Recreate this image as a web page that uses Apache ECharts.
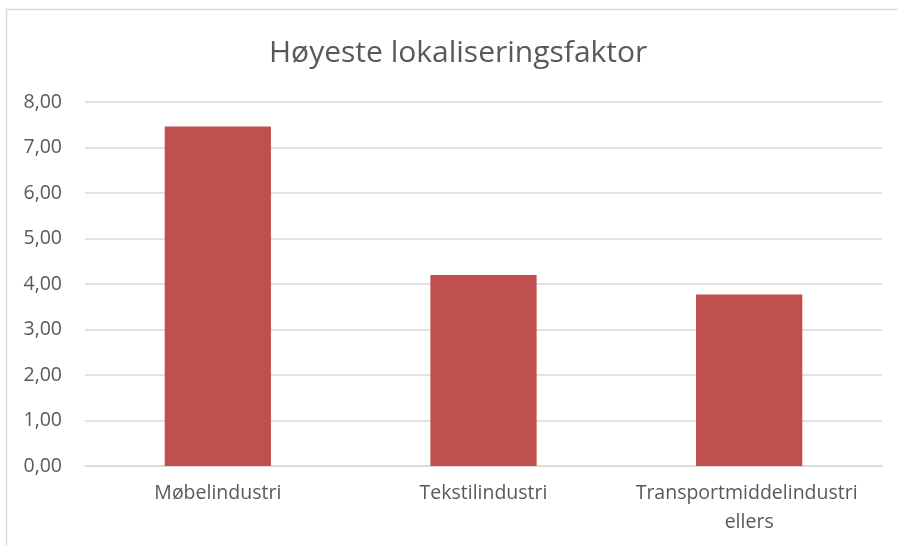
<!DOCTYPE html>
<html>
<head>
<meta charset="utf-8">
<style>
  html, body { margin: 0; padding: 0; background: #ffffff; }
  #chart { width: 898px; height: 545px; }
</style>
<script src="https://cdn.jsdelivr.net/npm/echarts@6/dist/echarts.min.js"></script>
</head>
<body>
<div id="chart"></div>
<script>
// Industries and their location quotients
const categories = ['Møbelindustri', 'Tekstilindustri', 'Transportmiddelindustri ellers'];
const values = [7.46, 4.20, 3.77];
const yTicks = [0, 1, 2, 3, 4, 5, 6, 7, 8];

const FONT = '"Open Sans", sans-serif';
const TEXT = '#595959';
const GRID = '#d9d9d9';

const chart = echarts.init(document.getElementById('chart'), null, { renderer: 'canvas' });
chart.setOption({
  backgroundColor: '#ffffff',
  animation: false,
  title: {
    text: 'Høyeste lokaliseringsfaktor',
    left: 264,
    top: 33,
    textStyle: { fontFamily: FONT, fontSize: 30, fontWeight: 'normal', color: TEXT }
  },
  graphic: [{
    type: 'rect',
    shape: { x: 6.5, y: 9.5, width: 1000, height: 1000 },
    style: { fill: 'none', stroke: GRID, lineWidth: 1.5 },
    silent: true
  }],
  grid: { left: 85, right: 16, top: 102, bottom: 79, containLabel: false },
  xAxis: {
    type: 'category',
    data: categories,
    axisTick: { show: false },
    axisLine: { lineStyle: { color: GRID, width: 1.5 } },
    axisLabel: {
      interval: 0,
      margin: 13,
      fontFamily: FONT, fontSize: 19.5, color: TEXT,
      width: 240, overflow: 'break', lineHeight: 29
    }
  },
  yAxis: {
    type: 'value',
    min: yTicks[0],
    max: yTicks[yTicks.length - 1],
    interval: 1,
    axisLine: { show: false },
    axisTick: { show: false },
    splitLine: { lineStyle: { color: GRID, width: 1.5 } },
    axisLabel: {
      margin: 23,
      fontFamily: FONT, fontSize: 19.5, color: TEXT,
      formatter: v => v.toFixed(2).replace('.', ',')
    }
  },
  series: [{
    type: 'bar',
    data: values,
    barCategoryGap: '60%',
    itemStyle: { color: '#c0504d' }
  }]
});
</script>
</body>
</html>
